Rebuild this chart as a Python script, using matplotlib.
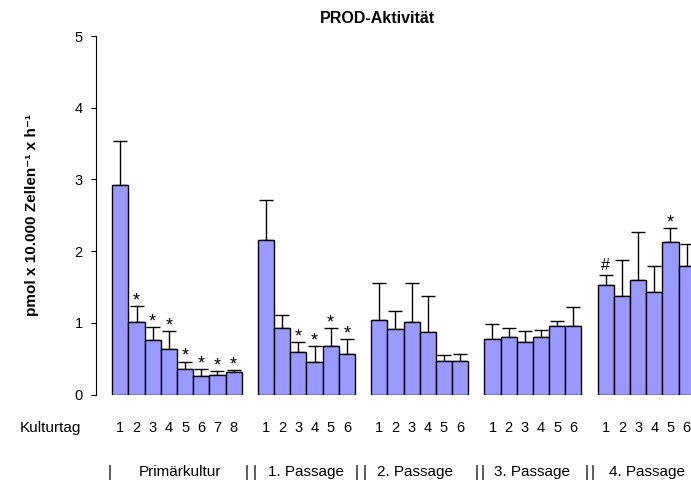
import matplotlib
matplotlib.use("Agg")
import matplotlib.pyplot as plt
import matplotlib.transforms as mtransforms
import numpy as np

plt.rcParams['font.family'] = ['Liberation Sans', 'DejaVu Sans']

# ---- data ----
groups = ["Primärkultur", "1. Passage", "2. Passage", "3. Passage", "4. Passage"]
days_per_group = [8, 6, 6, 6, 6]
means_primaer = [2.92, 1.015, 0.76, 0.64, 0.36, 0.26, 0.27, 0.32]
err_primaer = [0.61, 0.215, 0.18, 0.24, 0.10, 0.10, 0.06, 0.025]
means_p1 = [2.155, 0.926, 0.587, 0.456, 0.67, 0.563]
err_p1 = [0.555, 0.184, 0.143, 0.219, 0.26, 0.207]
means_p2 = [1.04, 0.91, 1.01, 0.866, 0.47, 0.47]
err_p2 = [0.51, 0.25, 0.54, 0.514, 0.08, 0.10]
means_p3 = [0.768, 0.796, 0.726, 0.796, 0.954, 0.954]
err_p3 = [0.212, 0.13, 0.154, 0.104, 0.066, 0.266]
means_p4 = [1.53, 1.38, 1.59, 1.43, 2.13, 1.79]
err_p4 = [0.14, 0.495, 0.68, 0.36, 0.19, 0.31]
marks_primaer = ["", "*", "*", "*", "*", "*", "*", "*"]
marks_p1 = ["", "", "*", "*", "*", "*"]
marks_p2 = ["", "", "", "", "", ""]
marks_p3 = ["", "", "", "", "", ""]
marks_p4 = ["#", "", "", "", "*", ""]

all_means = [means_primaer, means_p1, means_p2, means_p3, means_p4]
all_errs = [err_primaer, err_p1, err_p2, err_p3, err_p4]
all_marks = [marks_primaer, marks_p1, marks_p2, marks_p3, marks_p4]

W, H = 691, 483
fig = plt.figure(figsize=(W / 100, H / 100), dpi=100)

def fx(px):
    return px / W

def fy(py):
    return 1 - py / H

ax = fig.add_axes([fx(96), fy(394.5), 1 - fx(96), fy(36) - fy(394.5)])

x = []
vals = []
errs = []
marks = []
day_labels = []
pos = 0
for n, m, e, mk in zip(days_per_group, all_means, all_errs, all_marks):
    for i in range(n):
        x.append(pos + i)
        vals.append(m[i])
        errs.append(e[i])
        marks.append(mk[i])
        day_labels.append(str(i + 1))
    pos += n + 1
x = np.array(x)
vals = np.array(vals)
errs = np.array(errs)

ax.bar(x, vals, width=1.0, color="#9999FF", edgecolor="black", linewidth=1.0, zorder=2)
ax.errorbar(x, vals, yerr=[np.zeros_like(errs), errs], fmt="none", ecolor="black",
            elinewidth=1.0, capsize=5, capthick=1.0, zorder=1)

for xi, v, e, mk in zip(x, vals, errs, marks):
    if mk == "*":
        ax.annotate(mk, (xi, v + e), xytext=(0, 0.5), textcoords="offset points",
                    ha="center", va="baseline", fontsize=13)
    elif mk:
        ax.annotate(mk, (xi, v + e), xytext=(0, 3.6), textcoords="offset points",
                    ha="center", va="baseline", fontsize=11.5)

ax.set_xlim(-1.507, 35.27)
ax.set_ylim(0, 5)
ax.set_yticks([0, 1, 2, 3, 4, 5])
ax.tick_params(axis="y", direction="out", length=3.6, width=0.8, pad=6, labelsize=10.5)
ax.set_xticks([])
for s in ["top", "right", "bottom"]:
    ax.spines[s].set_visible(False)
ax.spines["left"].set_linewidth(0.8)

# day numbers under bars
trans = mtransforms.blended_transform_factory(ax.transData, fig.transFigure)
for xi, lab in zip(x, day_labels):
    ax.text(xi, fy(428), lab, transform=trans, ha="center", va="center", fontsize=10.5,
            clip_on=False)

fig.text(fx(20), fy(428), "Kulturtag", ha="left", va="center", fontsize=11)

# group labels row
label_centers = [179.5, 306, 415, 532, 647]
for gx, g in zip(label_centers, groups):
    fig.text(fx(gx), fy(472), g, ha="center", va="center", fontsize=11)
for sx in [110, 247, 255, 357, 365, 477, 483, 587, 593]:
    fig.text(fx(sx), fy(472), "|", ha="center", va="center", fontsize=11.5)

fig.text(fx(377), fy(18.5), "PROD-Aktivität", ha="center", va="center", fontsize=11.5,
         fontweight="bold")
fig.text(fx(32), fy(215), "pmol x 10.000 Zellen\u207b\u00b9 x h\u207b\u00b9",
         rotation=90, ha="center", va="center", fontsize=11, fontweight="bold")

fig.savefig("out.png", dpi=100)
